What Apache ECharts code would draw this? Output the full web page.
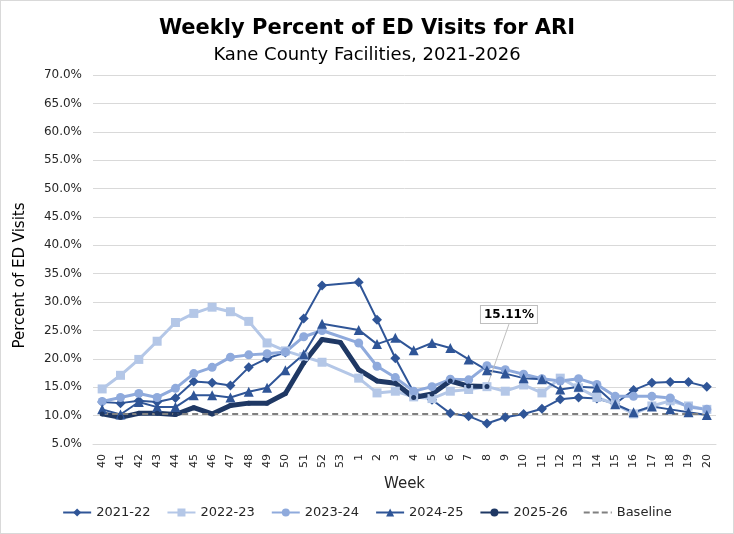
<!DOCTYPE html>
<html>
<head>
<meta charset="utf-8">
<script src="https://cdn.jsdelivr.net/npm/echarts@6/dist/echarts.min.js"></script>
<style>
html,body{margin:0;padding:0;background:#fff;}
#c{width:734px;height:534px;box-sizing:border-box;border:1px solid #d9d9d9;}
</style>
</head>
<body>
<div id="c"></div>
<script>
var weeks = ['40','41','42','43','44','45','46','47','48','49','50','51','52','53','1','2','3','4','5','6','7','8','9','10','11','12','13','14','15','16','17','18','19','20'];
var yTicks = {min: 5, max: 70, interval: 5};

var s2122 = [12.4,12.2,12.6,12.4,13.1,16.0,15.8,15.3,18.5,20.1,21.1,27.1,32.9,null,33.5,26.9,20.1,14.1,12.8,10.4,9.9,8.6,9.7,10.3,11.2,12.9,13.2,13.0,12.1,14.5,15.8,15.9,15.9,15.1];
var s2223 = [14.7,17.1,19.9,23.1,26.4,28.0,29.1,28.3,26.6,22.8,21.4,20.4,19.4,null,16.6,14.0,14.3,13.3,13.0,14.3,14.6,15.1,14.3,15.4,14.0,16.6,14.9,13.2,12.0,10.3,11.7,12.6,11.7,11.1];
var s2324 = [12.5,13.2,13.9,13.2,14.8,17.4,18.5,20.3,20.7,20.9,21.2,23.9,25.0,null,22.8,18.7,16.7,14.3,15.1,16.4,16.3,18.8,18.1,17.3,16.5,16.1,16.5,15.5,13.4,13.4,13.4,13.1,11.5,11.1];
var s2425 = [11.1,10.2,12.4,11.5,11.5,13.6,13.6,13.2,14.2,14.9,18.0,20.8,26.2,null,25.1,22.6,23.7,21.5,22.8,21.9,19.9,18.0,17.4,16.6,16.4,14.6,15.1,14.9,12.0,10.6,11.6,11.1,10.6,10.1];
var s2526 = [10.3,9.7,10.4,10.4,10.2,11.4,10.3,11.8,12.2,12.2,13.9,19.3,23.4,22.9,18.1,16.1,15.7,13.2,13.8,16.1,15.2,15.11];
var baseline = [10.3,10.3,10.3,10.3,10.3,10.3,10.3,10.3,10.3,10.3,10.3,10.3,10.3,10.3,10.3,10.3,10.3,10.3,10.3,10.3,10.3,10.3,10.3,10.3,10.3,10.3,10.3,10.3,10.3,10.3,10.3,10.3,10.3,10.3];
var labelIndex = 21;

var FONT = 'DejaVu Sans';
var TXT = '#262626';
var chart = echarts.init(document.getElementById('c'), null, {renderer: 'canvas'});

var d2526 = s2526.map(function (v, i) {
  if (i !== labelIndex) return v;
  return {
    value: v,
    label: {
      show: true,
      position: 'top',
      formatter: function (p) { return p.value.toFixed(2) + '%'; },
      fontFamily: FONT, fontWeight: 'bold', fontSize: 12, color: '#000',
      backgroundColor: '#fff', borderColor: '#bfbfbf', borderWidth: 1,
      padding: [3, 3, 2, 3]
    }
  };
});

function mk(name, data, color, width, symbol, size, extra) {
  var s = {
    name: name, type: 'line', data: data, connectNulls: true,
    symbol: symbol, symbolSize: size,
    itemStyle: {color: color},
    lineStyle: {color: color, width: width},
    emphasis: {disabled: true}
  };
  if (extra) for (var k in extra) s[k] = extra[k];
  return s;
}

chart.setOption({
  animation: false,
  backgroundColor: '#fff',
  title: [
    {text: 'Weekly Percent of ED Visits for ARI', left: 'center', top: 12,
     textStyle: {fontFamily: FONT, fontSize: 21, fontWeight: 'bold', color: '#000'}},
    {text: 'Kane County Facilities, 2021-2026', left: 'center', top: 40,
     textStyle: {fontFamily: FONT, fontSize: 18, fontWeight: 'normal', color: '#000'}}
  ],
  grid: {left: 92, right: 17, top: 74, bottom: 89},
  legend: {
    bottom: 9, left: 'center', itemWidth: 28, itemHeight: 10, itemGap: 16,
    symbolKeepAspect: true,
    textStyle: {fontFamily: FONT, fontSize: 13, color: TXT},
    data: ['2021-22','2022-23','2023-24','2024-25','2025-26',
      {name: 'Baseline', icon: 'path://M0,0h6v2h-6z M9,0h6v2h-6z M18,0h6v2h-6z M27,0h1v2h-1z'}]
  },
  xAxis: {
    type: 'category', data: weeks, boundaryGap: true,
    axisTick: {show: false},
    axisLine: {lineStyle: {color: '#d9d9d9'}},
    axisLabel: {rotate: 90, fontFamily: FONT, fontSize: 11, color: TXT, margin: 10, interval: 0},
    name: 'Week', nameLocation: 'middle', nameGap: 33,
    nameTextStyle: {fontFamily: FONT, fontSize: 15, color: TXT}
  },
  yAxis: {
    type: 'value', min: yTicks.min, max: yTicks.max, interval: yTicks.interval,
    axisLine: {show: false}, axisTick: {show: false},
    splitLine: {lineStyle: {color: '#d9d9d9'}},
    axisLabel: {fontFamily: FONT, fontSize: 12, color: TXT, margin: 11,
      formatter: function (v) { return v.toFixed(1) + '%'; }},
    name: 'Percent of ED Visits', nameLocation: 'middle', nameGap: 65,
    nameTextStyle: {fontFamily: FONT, fontSize: 15, color: '#000', padding: [0, 32, 0, 0]}
  },
  series: [
    mk('2021-22', s2122, '#2F5597', 2, 'diamond', 10),
    mk('2022-23', s2223, '#B4C7E7', 3, 'rect', 9),
    mk('2023-24', s2324, '#8FAADC', 3, 'circle', 9),
    mk('2024-25', s2425, '#2F5597', 2, 'triangle', 10),
    mk('2025-26', d2526, '#1F3864', 5, 'circle', 5, {
      labelLayout: {dx: 22, dy: -56},
      labelLine: {show: true, lineStyle: {color: '#bfbfbf', width: 1}}
    }),
    mk('Baseline', baseline, '#808080', 2, 'none', 0, {
      lineStyle: {color: '#808080', width: 2, type: [6, 4]}
    })
  ]
});
</script>
</body>
</html>
